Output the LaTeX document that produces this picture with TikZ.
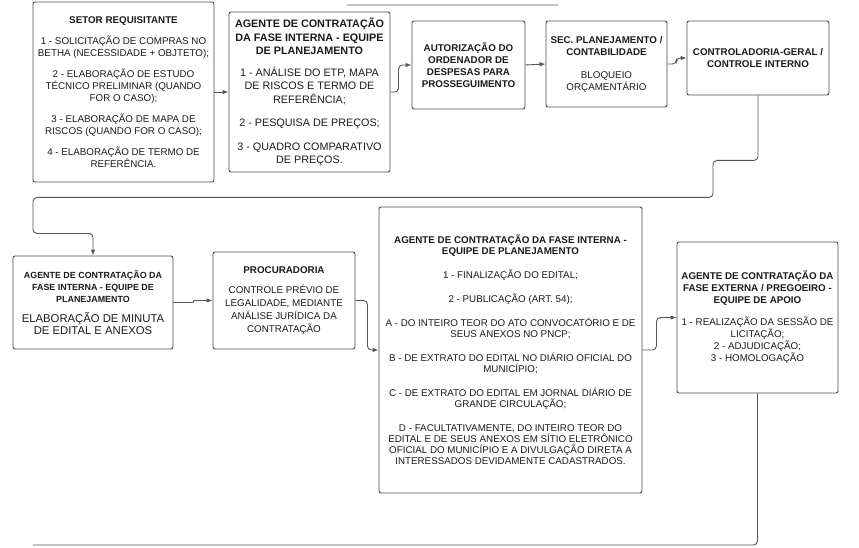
\documentclass[tikz,border=0pt]{standalone}
\usepackage{fontspec}
\setmainfont{Liberation Sans}
\usepackage{tikz}
\usetikzlibrary{arrows.meta}
\usepackage{xcolor}
\definecolor{flowBorder}{HTML}{4A4A4A}
\definecolor{flowLine}{HTML}{555555}
\definecolor{flowText}{HTML}{1A1A1A}
\definecolor{flowTitle}{HTML}{C4C4C4}

\begin{document}
\begin{tikzpicture}[
        x=1pt, y=-1pt,
        box/.style={
            draw=flowBorder,
            rounded corners=2pt,
            line width=0.9pt,
            align=center,
            inner sep=2pt,
            text=flowText,
            font=\fontsize{9.8}{12}\selectfont
        },
        arrow/.style={
            -{Latex[length=6pt,width=4.5pt]},
            line width=0.9pt,
            draw=flowLine,
            rounded corners=4pt
        },
        link/.style={
            line width=0.9pt,
            draw=flowLine,
            rounded corners=4pt
        }
    ]
    \useasboundingbox (0,0) rectangle (859,548);

    % sublinhado do titulo (cortado)
    \draw[flowTitle, line width=1.6pt] (347,5) -- (558,5);

    % primeira linha
    \node[box, minimum width=181pt, minimum height=180pt] (setor) at (123.5,92)
        {\textbf{SETOR REQUISITANTE}\\[9pt]
         1 - SOLICITAÇÃO DE COMPRAS NO\\ BETHA (NECESSIDADE + OBJTETO);\\[9pt]
         2 - ELABORAÇÃO DE ESTUDO\\ TÉCNICO PRELIMINAR (QUANDO\\ FOR O CASO);\\[9pt]
         3 - ELABORAÇÃO DE MAPA DE\\ RISCOS (QUANDO FOR O CASO);\\[9pt]
         4 - ELABORAÇÃO DE TERMO DE\\ REFERÊNCIA.};

    \node[box, minimum width=161pt, minimum height=160pt,
          font=\fontsize{10.8}{13.5}\selectfont] (planej) at (309.5,92)
        {\textbf{AGENTE DE CONTRATAÇÃO}\\ \textbf{DA FASE INTERNA - EQUIPE}\\
         \textbf{DE PLANEJAMENTO}\\[8pt]
         1 - ANÁLISE DO ETP, MAPA\\ DE RISCOS E TERMO DE\\ REFERÊNCIA;\\[10pt]
         2 - PESQUISA DE PREÇOS;\\[10pt]
         3 - QUADRO COMPARATIVO\\ DE PREÇOS.};

    \node[box, minimum width=113pt, minimum height=88pt] (autoriz) at (468.5,65)
        {\textbf{AUTORIZAÇÃO DO}\\ \textbf{ORDENADOR DE}\\
         \textbf{DESPESAS PARA}\\ \textbf{PROSSEGUIMENTO}};

    \node[box, minimum width=121pt, minimum height=86pt] (secplan) at (606.5,64)
        {\textbf{SEC. PLANEJAMENTO /}\\ \textbf{CONTABILIDADE}\\[11pt]
         BLOQUEIO\\ ORÇAMENTÁRIO};

    \node[box, minimum width=142pt, minimum height=74pt] (controle) at (758,58)
        {\textbf{CONTROLADORIA-GERAL /}\\ \textbf{CONTROLE INTERNO}};

    % segunda linha
    \node[box, minimum width=160pt, minimum height=93pt] (minuta) at (93,302.5)
        {\fontsize{8.9}{10}\selectfont\textbf{AGENTE DE CONTRATAÇÃO DA}\\
         \fontsize{8.9}{10}\selectfont\textbf{FASE INTERNA - EQUIPE DE}\\
         \fontsize{8.9}{10}\selectfont\textbf{PLANEJAMENTO}\\[8pt]
         \fontsize{11.3}{12.5}\selectfont ELABORAÇÃO DE MINUTA\\
         \fontsize{11.3}{12.5}\selectfont DE EDITAL E ANEXOS};

    \node[box, minimum width=142pt, minimum height=97pt,
          font=\fontsize{9.8}{13}\selectfont] (procur) at (284,300.5)
        {\textbf{PROCURADORIA}\\[7pt]
         CONTROLE PRÉVIO DE\\ LEGALIDADE, MEDIANTE\\
         ANÁLISE JURÍDICA DA\\ CONTRATAÇÃO};

    \node[box, minimum width=263pt, minimum height=286pt,
          font=\fontsize{9.8}{11}\selectfont] (edital) at (510.5,350)
        {\textbf{AGENTE DE CONTRATAÇÃO DA FASE INTERNA -}\\
         \textbf{EQUIPE DE PLANEJAMENTO}\\[13pt]
         1 - FINALIZAÇÃO DO EDITAL;\\[13pt]
         2 - PUBLICAÇÃO (ART. 54);\\[13pt]
         A - DO INTEIRO TEOR DO ATO CONVOCATÓRIO E DE\\ SEUS ANEXOS NO PNCP;\\[13pt]
         B - DE EXTRATO DO EDITAL NO DIÁRIO OFICIAL DO\\ MUNICÍPIO;\\[13pt]
         C - DE EXTRATO DO EDITAL EM JORNAL DIÁRIO DE\\ GRANDE CIRCULAÇÃO;\\[13pt]
         D - FACULTATIVAMENTE, DO INTEIRO TEOR DO\\
         EDITAL E DE SEUS ANEXOS EM SÍTIO ELETRÔNICO\\
         OFICIAL DO MUNICÍPIO E A DIVULGAÇÃO DIRETA A\\
         INTERESSADOS DEVIDAMENTE CADASTRADOS.};

    \node[box, minimum width=161pt, minimum height=151pt] (externa) at (757.5,317.5)
        {\textbf{AGENTE DE CONTRATAÇÃO DA}\\ \textbf{FASE EXTERNA / PREGOEIRO -}\\
         \textbf{EQUIPE DE APOIO}\\[10pt]
         1 - REALIZAÇÃO DA SESSÃO DE\\ LICITAÇÃO;\\
         2 - ADJUDICAÇÃO;\\ 3 - HOMOLOGAÇÃO};

    \coordinate (fim) at (33,545);

    % conexoes
    \draw[arrow] (setor.east) -- (planej.west);
    \draw[arrow] (planej.east) -- ++(8,0) |- (autoriz.west);
    \draw[arrow] (autoriz.east) -- (secplan.west);
    \draw[arrow] (secplan.east) -- ++(9,0) |- (controle.west);
    \draw[arrow] (controle.south) |- ++(-45,65) |- ++(-680,37)
        |- ++(60,36) -- (minuta.north);
    \draw[arrow, rounded corners=0.5pt] (minuta.east) -- ++(20,0) |- (procur.west);
    \draw[arrow] (procur.east) -- ++(12,0) |- (edital.west);
    \draw[arrow] (edital.east) -- ++(14,0) |- (externa.west);
    \draw[link] (externa.south) |- (fim);

\end{tikzpicture}
\end{document}
